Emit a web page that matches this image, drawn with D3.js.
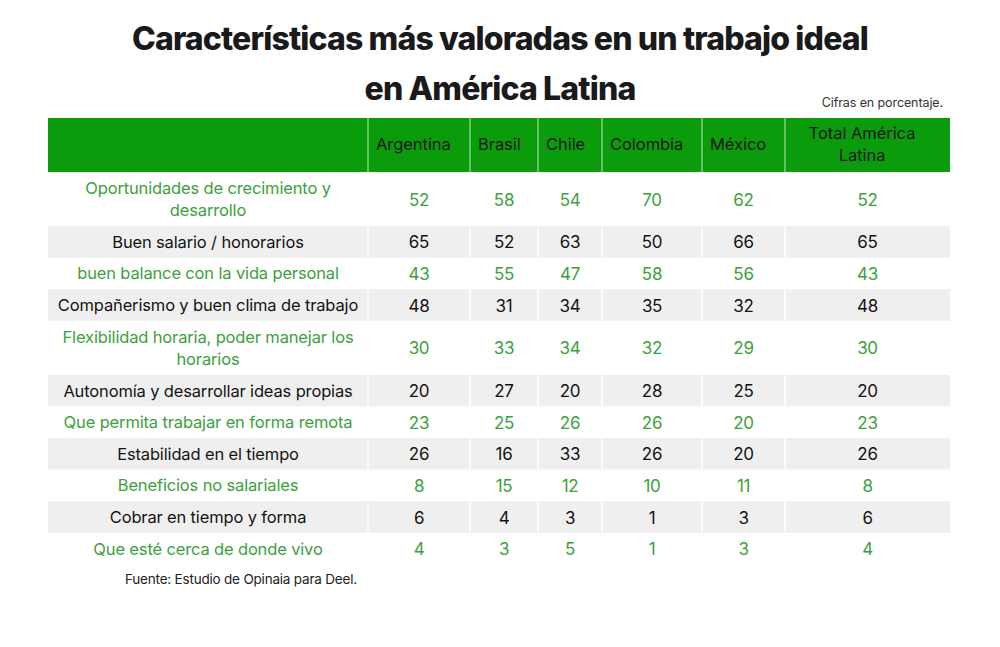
<!DOCTYPE html>
<html><head><meta charset="utf-8">
<script src="https://cdn.jsdelivr.net/npm/d3@7"></script>
<style>
html,body{margin:0;padding:0;background:#fff;}
svg{display:block;}
</style></head>
<body>
<script>
const titleLines = ["Características más valoradas en un trabajo ideal", "en América Latina"];
const subtitle = "Cifras en porcentaje.";
const source = "Fuente: Estudio de Opinaia para Deel.";
const columns = ["Argentina", "Brasil", "Chile", "Colombia", "México", "Total América Latina"];
const categories = [
  "Oportunidades de crecimiento y desarrollo",
  "Buen salario / honorarios",
  "buen balance con la vida personal",
  "Compañerismo y buen clima de trabajo",
  "Flexibilidad horaria, poder manejar los horarios",
  "Autonomía y desarrollar ideas propias",
  "Que permita trabajar en forma remota",
  "Estabilidad en el tiempo",
  "Beneficios no salariales",
  "Cobrar en tiempo y forma",
  "Que esté cerca de donde vivo"
];
const argentina = [52, 65, 43, 48, 30, 20, 23, 26, 8, 6, 4];
const brasil    = [58, 52, 55, 31, 33, 27, 25, 16, 15, 4, 3];
const chile     = [54, 63, 47, 34, 34, 20, 26, 33, 12, 3, 5];
const colombia  = [70, 50, 58, 35, 32, 28, 26, 26, 10, 1, 1];
const mexico    = [62, 66, 56, 32, 29, 25, 20, 20, 11, 3, 3];
const totalAL   = [52, 65, 43, 48, 30, 20, 23, 26, 8, 6, 4];
const series = [argentina, brasil, chile, colombia, mexico, totalAL];

const W = 1000, H = 647;
const svg = d3.select("body").append("svg").attr("width", W).attr("height", H);

const FONT = "Inter, 'Liberation Sans', sans-serif";
const GREEN = "#0a9c0a";
const GREEN_TXT = "#3d9f3d";
const GRAY = "#efefef";

// title
svg.append("g").selectAll("text").data(titleLines).join("text")
  .attr("x", 500).attr("y", (d, i) => 50 + i * 50)
  .attr("text-anchor", "middle")
  .style("font-family", FONT).style("font-weight", 800)
  .style("font-size", "32px").style("letter-spacing", "-0.85px")
  .attr("fill", "#1a1a1a").text(d => d);

svg.append("text").attr("x", 943).attr("y", 107).attr("text-anchor", "end")
  .style("font-family", FONT).style("font-size", "12.5px").style("letter-spacing", "-0.1px")
  .attr("fill", "#333").text(subtitle);

const colEdges = [48, 368, 470, 538, 602, 702, 785, 950];
const headerTop = 118, headerBot = 172;
const rowLines = [2, 1, 1, 1, 2, 1, 1, 1, 1, 1, 1];
const rowH = rowLines.map(n => n === 2 ? 54 : 31.6);
const rowEdges = [headerBot];
rowH.forEach(h => rowEdges.push(rowEdges[rowEdges.length - 1] + h));
const y = (i) => rowEdges[i];

const labelLines = {
  "Oportunidades de crecimiento y desarrollo": ["Oportunidades de crecimiento y", "desarrollo"],
  "Flexibilidad horaria, poder manejar los horarios": ["Flexibilidad horaria, poder manejar los", "horarios"]
};

// header
const hdr = svg.append("g");
hdr.append("rect").attr("x", colEdges[0]).attr("y", headerTop)
  .attr("width", colEdges[7] - colEdges[0]).attr("height", headerBot - headerTop).attr("fill", GREEN);
hdr.selectAll("line").data(colEdges.slice(1, 7)).join("line")
  .attr("x1", d => d).attr("x2", d => d).attr("y1", headerTop).attr("y2", headerBot)
  .attr("stroke", "#9fd89f").attr("stroke-width", 1.2);
columns.forEach((c, j) => {
  const x0 = colEdges[j + 1];
  const t = hdr.append("text")
    .style("font-family", FONT).style("font-size", "16.5px").style("letter-spacing", "-0.05px")
    .attr("fill", "#161616");
  if (j === 5) {
    const lines = ["Total América", "Latina"];
    t.attr("text-anchor", "middle");
    lines.forEach((l, k) => t.append("tspan").attr("x", 862).attr("y", 139 + k * 22).text(l));
  } else {
    t.attr("x", x0 + 8).attr("y", 150).text(c);
  }
});

// rows
const body = svg.append("g");
categories.forEach((cat, i) => {
  const isGreen = i % 2 === 0;
  const top = y(i), h = rowH[i], mid = top + h / 2;
  if (!isGreen) {
    body.append("rect").attr("x", colEdges[0]).attr("y", top)
      .attr("width", colEdges[7] - colEdges[0]).attr("height", h).attr("fill", GRAY);
    body.selectAll(null).data(colEdges.slice(1, 7)).join("line")
      .attr("x1", d => d).attr("x2", d => d).attr("y1", top).attr("y2", top + h)
      .attr("stroke", "#fff").attr("stroke-width", 1.5);
  }
  const fill = isGreen ? GREEN_TXT : "#141414";
  const lines = labelLines[cat] || [cat];
  const lt = body.append("text").attr("text-anchor", "middle")
    .style("font-family", FONT).style("font-size", "16.5px").style("letter-spacing", "-0.15px")
    .attr("fill", fill);
  lines.forEach((l, k) => lt.append("tspan")
    .attr("x", (colEdges[0] + colEdges[1]) / 2)
    .attr("y", mid + 6 + (k - (lines.length - 1) / 2) * 22).text(l));
  series.forEach((s, j) => {
    body.append("text").attr("text-anchor", "middle")
      .attr("x", (colEdges[j + 1] + colEdges[j + 2]) / 2).attr("y", mid + 6.5)
      .style("font-family", FONT).style("font-size", "17px").style("letter-spacing", "-0.3px")
      .attr("fill", fill).text(s[i]);
  });
});

svg.append("text").attr("x", 125).attr("y", 584)
  .style("font-family", FONT).style("font-size", "13.5px").style("letter-spacing", "-0.2px")
  .attr("fill", "#222").text(source);
</script>
</body></html>
